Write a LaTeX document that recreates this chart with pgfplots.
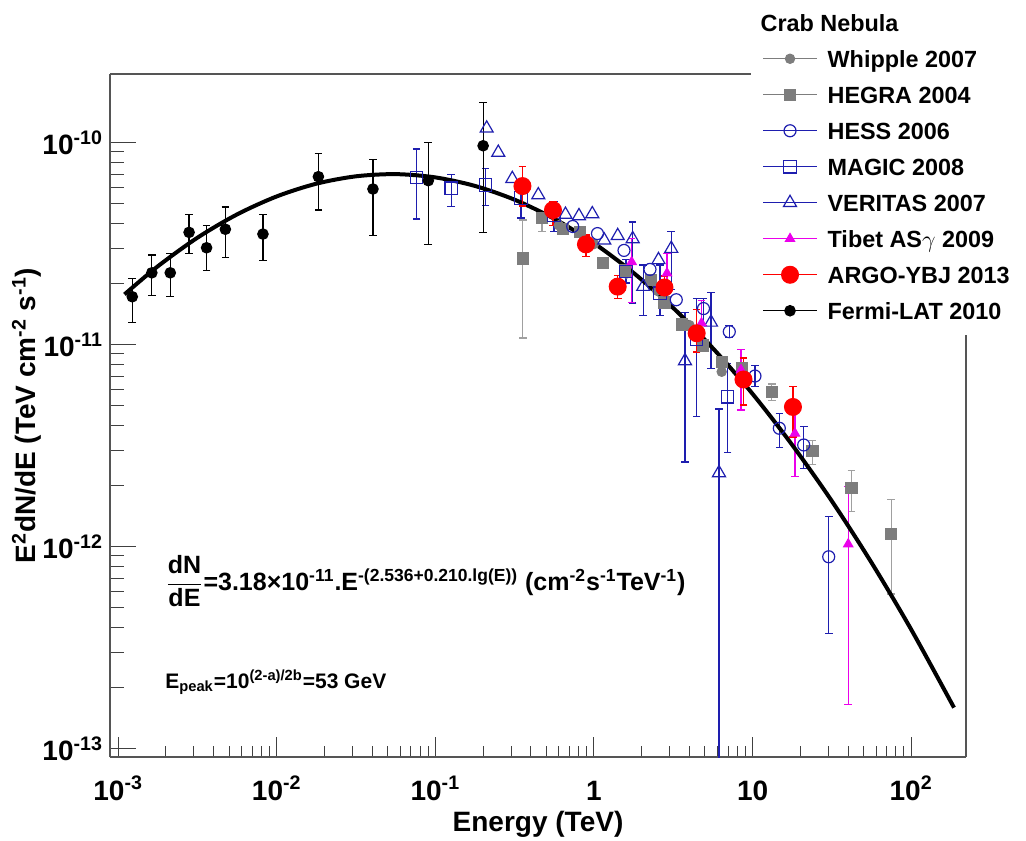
\documentclass[border=0pt]{standalone}
\usepackage{amsmath}
\usepackage{fontspec}
\setmainfont{Liberation Sans}
\usepackage{pgfplots}
\pgfplotsset{compat=1.18}
\usepackage{pgfplotstable}

\definecolor{rblue}{RGB}{30,30,175}
\definecolor{hgray}{RGB}{125,125,125}
\definecolor{egray}{RGB}{160,160,160}
\definecolor{tmag}{RGB}{235,0,235}
\definecolor{framegray}{RGB}{85,85,85}
\newcommand{\tsup}[1]{\textsuperscript{#1}}

% Fermi-LAT 2010
\pgfplotstableread{
x y hi lo
1.227e-3 1.728e-11 2.13e-11 1.29e-11
1.63e-3 2.27e-11 2.78e-11 1.76e-11
2.13e-3 2.27e-11 2.84e-11 1.73e-11
2.80e-3 3.60e-11 4.42e-11 2.84e-11
3.61e-3 3.02e-11 3.88e-11 2.32e-11
4.74e-3 3.73e-11 4.81e-11 2.70e-11
8.18e-3 3.53e-11 4.42e-11 2.61e-11
1.83e-2 6.79e-11 8.86e-11 4.64e-11
4.04e-2 5.90e-11 8.28e-11 3.48e-11
9.02e-2 6.49e-11 1.00e-10 3.14e-11
0.200 9.66e-11 1.578e-10 3.60e-11
}\fermi
% MAGIC 2008
\pgfplotstableread{
x y hi lo
0.0762 6.74e-11 9.31e-11 4.19e-11
0.1259 5.95e-11 6.98e-11 4.82e-11
0.2075 6.17e-11 7.47e-11 4.88e-11
0.3465 5.32e-11 6.32e-11 4.24e-11
0.56 4.39e-11 5.10e-11 3.63e-11
1.591 2.30e-11 2.63e-11 2.02e-11
2.607 1.80e-11 2.48e-11 1.39e-11
4.44 1.06e-11 1.70e-11 4.40e-12
6.966 5.53e-12 8.09e-12 2.93e-12
}\magic
% VERITAS 2007
\pgfplotstableread{
x y
0.2106 1.178e-10
0.2492 8.94e-11
0.3054 6.63e-11
0.4455 5.51e-11
0.661 4.41e-11
0.804 4.34e-11
0.9756 4.44e-11
1.161 3.29e-11
1.411 3.46e-11
2.551 2.63e-11
}\veritas
\pgfplotstableread{
x y hi lo
1.754 3.34e-11 4.05e-11 1.61e-11
2.045 1.94e-11 2.48e-11 1.39e-11
3.071 2.99e-11 3.65e-11 1.87e-11
3.748 8.31e-12 1.45e-11 2.63e-12
5.466 1.29e-11 1.81e-11 7.64e-12
6.140 2.32e-12 4.81e-12 1e-15
}\veritaserr
% HESS 2006
\pgfplotstableread{
x y
0.734 3.85e-11
1.052 3.55e-11
1.546 2.93e-11
2.255 2.36e-11
3.303 1.67e-11
}\hess
\pgfplotstableread{
x y hi lo
4.902 1.51e-11 1.70e-11 1.25e-11
7.130 1.16e-11 1.24e-11 1.09e-11
10.35 7.00e-12 7.91e-12 6.22e-12
14.74 3.86e-12 4.58e-12 3.09e-12
21.0 3.19e-12 3.93e-12 2.44e-12
30.2 8.92e-13 1.41e-12 3.73e-13
}\hesserr
% HEGRA 2004
\pgfplotstableread{
x y
0.638 3.74e-11
0.816 3.63e-11
1.140 2.54e-11
1.569 2.33e-11
2.288 2.10e-11
2.782 1.62e-11
3.603 1.26e-11
4.867 9.91e-12
6.386 8.21e-12
8.536 7.67e-12
}\hegra
\pgfplotstableread{
x y hi lo
0.356 2.67e-11 4.14e-11 1.08e-11
0.470 4.23e-11 4.49e-11 3.63e-11
13.20 5.83e-12 6.39e-12 5.32e-12
23.87 2.99e-12 3.35e-12 2.56e-12
42.0 1.95e-12 2.38e-12 1.50e-12
74.9 1.16e-12 1.72e-12 5.83e-13
}\hegraerr
% Whipple 2007
\pgfplotstableread{
x y
0.60 3.90e-11
1.0 3.15e-11
1.6 2.25e-11
2.5 1.85e-11
4.0 1.25e-11
6.386 7.35e-12
}\whipple
% Tibet ASgamma 2009
\pgfplotstableread{
x y hi lo
1.728 2.57e-11 3.36e-11 1.62e-11
2.886 2.26e-11 2.84e-11 1.66e-11
4.762 1.28e-11 1.66e-11 9.31e-12
8.450 7.50e-12 9.49e-12 4.75e-12
18.50 3.64e-12 4.75e-12 2.22e-12
40.1 1.03e-12 1.98e-12 1.66e-13
}\tibet
% ARGO-YBJ 2013
\pgfplotstableread{
x y hi lo
0.354 6.10e-11 7.62e-11 4.86e-11
0.5514 4.64e-11 5.10e-11 3.91e-11
0.890 3.14e-11 3.49e-11 2.73e-11
1.411 1.94e-11 2.21e-11 1.70e-11
2.782 1.92e-11 2.19e-11 1.66e-11
4.441 1.14e-11 1.49e-11 9.20e-12
8.762 6.73e-12 8.60e-12 5.03e-12
17.97 4.92e-12 6.20e-12 3.49e-12
}\argo
% log-parabola fit
\pgfplotstableread{
x y
1.096e-3 1.775e-11
1.778e-3 2.445e-11
3.162e-3 3.388e-11
5.623e-3 4.418e-11
1.0e-2 5.424e-11
1.778e-2 6.27e-11
3.162e-2 6.82e-11
5.623e-2 6.99e-11
0.1 6.735e-11
0.1778 6.11e-11
0.3162 5.22e-11
0.5623 4.20e-11
1.0 3.18e-11
1.778 2.266e-11
3.162 1.52e-11
5.623 9.60e-12
10.0 5.71e-12
17.78 3.19e-12
31.62 1.682e-12
56.23 8.34e-13
100.0 3.894e-13
186.2 1.598e-13
}\fit

\begin{document}
\begin{tikzpicture}
\useasboundingbox (-55pt,-41.5pt) rectangle (458pt,378.5pt);
\begin{axis}[
  at={(0pt,0pt)}, anchor=south west,
  scale only axis, width=428pt, height=341.5pt,
  xmode=log, ymode=log,
  xmin=8.88e-4, xmax=221.6, ymin=9.10e-14, ymax=2.188e-10,
  axis x line*=bottom, axis y line*=left,
  axis line style={framegray, line width=0.8pt, -},
  tick align=inside,
  xtick={1e-3,1e-2,1e-1,1,10,100},
  xticklabels={{10\tsup{-3}},{10\tsup{-2}},{10\tsup{-1}},{1},{10},{10\tsup{2}}},
  ytick={1e-13,1e-12,1e-11,1e-10},
  yticklabels={{10\tsup{-13}},{10\tsup{-12}},{10\tsup{-11}},{10\tsup{-10}}},
  /pgf/number format/assume math mode=true,
  tick style={black!75, line width=0.5pt},
  major x tick style={/pgfplots/major tick length=10pt},
  minor x tick style={/pgfplots/minor tick length=5.3pt},
  major y tick style={/pgfplots/major tick length=13pt},
  minor y tick style={/pgfplots/minor tick length=7pt},
  ticklabel style={font=\fontsize{14}{16}\selectfont\bfseries},
  xticklabel style={anchor=base, yshift=-21.5pt},
  every axis plot/.append style={line width=0.6pt},
  error bars/error bar style={line width=0.6pt},
  error bars/error mark options={rotate=90, line width=0.6pt, mark size=1.9pt},
  legend image code/.code={\draw[#1,mark=none] (0pt,0pt)--(27pt,0pt);
     \draw[#1,only marks] plot coordinates {(13.5pt,0pt)};},
  legend cell align=left,
  legend style={at={(0.7617,1.1020)}, anchor=north west, draw=none, fill=white,
     inner sep=0pt, row sep=0pt, column sep=5pt,
     font=\fontsize{11.7}{14}\selectfont\bfseries,
     nodes={inner sep=0pt, text height=13.2pt, text depth=4.8pt}},
]
\addlegendimage{empty legend}
\addlegendentry{\hspace*{-33.5pt}Crab Nebula}

\addplot[only marks, mark=*, color=hgray, mark size=2.3pt] table[x=x,y=y]{\whipple};
\addlegendentry{Whipple 2007}

\addplot[only marks, mark=square*, color=hgray, mark size=2.75pt] table[x=x,y=y]{\hegra};
\addlegendentry{HEGRA 2004}
\addplot[forget plot, only marks, mark=square*, color=hgray, mark size=2.75pt,
  error bars/.cd, y dir=both, y explicit, error bar style={egray},
  error mark options={rotate=90, line width=0.6pt, mark size=1.9pt, egray}]
  table[x=x, y=y, y error plus expr=\thisrow{hi}-\thisrow{y}, y error minus expr=\thisrow{y}-\thisrow{lo}]{\hegraerr};

\addplot[only marks, mark=o, color=rblue, mark size=3pt] table[x=x,y=y]{\hess};
\addlegendentry{HESS 2006}
\addplot[forget plot, only marks, mark=o, color=rblue, mark size=3pt,
  error bars/.cd, y dir=both, y explicit]
  table[x=x, y=y, y error plus expr=\thisrow{hi}-\thisrow{y}, y error minus expr=\thisrow{y}-\thisrow{lo}]{\hesserr};

\addplot[only marks, mark=square, color=rblue, mark size=3.1pt,
  error bars/.cd, y dir=both, y explicit]
  table[x=x, y=y, y error plus expr=\thisrow{hi}-\thisrow{y}, y error minus expr=\thisrow{y}-\thisrow{lo}]{\magic};
\addlegendentry{MAGIC 2008}

\addplot[only marks, mark=triangle, color=rblue, mark size=3.75pt] table[x=x,y=y]{\veritas};
\addlegendentry{VERITAS 2007}
\addplot[forget plot, only marks, mark=triangle, color=rblue, mark size=3.75pt,
  error bars/.cd, y dir=both, y explicit]
  table[x=x, y=y, y error plus expr=\thisrow{hi}-\thisrow{y}, y error minus expr=\thisrow{y}-\thisrow{lo}]{\veritaserr};

\addplot[only marks, mark=triangle*, color=tmag, mark size=2.6pt,
  error bars/.cd, y dir=both, y explicit]
  table[x=x, y=y, y error plus expr=\thisrow{hi}-\thisrow{y}, y error minus expr=\thisrow{y}-\thisrow{lo}]{\tibet};
\addlegendentry{Tibet AS$\gamma$ 2009}

\addplot[forget plot, black, line width=2pt, smooth, no markers] table[x=x,y=y]{\fit};

\addplot[only marks, mark=*, color=red, mark size=4.2pt,
  error bars/.cd, y dir=both, y explicit]
  table[x=x, y=y, y error plus expr=\thisrow{hi}-\thisrow{y}, y error minus expr=\thisrow{y}-\thisrow{lo}]{\argo};
\addlegendentry{ARGO-YBJ 2013}

\addplot[only marks, mark=*, color=black, mark size=2.6pt,
  error bars/.cd, y dir=both, y explicit]
  table[x=x, y=y, y error plus expr=\thisrow{hi}-\thisrow{y}, y error minus expr=\thisrow{y}-\thisrow{lo}]{\fermi};
\addlegendentry{Fermi-LAT 2010}
\end{axis}
\draw[framegray, line width=0.8pt] (0pt,341.5pt) -- (320.5pt,341.5pt);
\draw[framegray, line width=0.8pt] (428pt,0pt) -- (428pt,211pt);

\node[anchor=base, font=\fontsize{14}{16}\selectfont\bfseries] at (214pt,-37.35pt) {Energy (TeV)};
\node[rotate=90, anchor=base, font=\fontsize{14}{16}\selectfont\bfseries] at (-37pt,170.75pt)
  {E\tsup{2}dN/dE (TeV cm\tsup{-2} s\tsup{-1})};

\node[anchor=base west, inner sep=0pt, font=\fontsize{12.5}{15}\selectfont\bfseries] at (27.5pt,83.5pt)
  {$\dfrac{\text{dN}}{\text{dE}}$=3.18×10\tsup{-11}.E\tsup{-(2.536+0.210.lg(E))} (cm\tsup{-2}s\tsup{-1}TeV\tsup{-1})};
\node[anchor=base west, inner sep=0pt, font=\fontsize{10.5}{12}\selectfont\bfseries] at (27.5pt,34.5pt)
  {E\textsubscript{peak}=10\tsup{(2-a)/2b}=53 GeV};
\end{tikzpicture}
\end{document}
